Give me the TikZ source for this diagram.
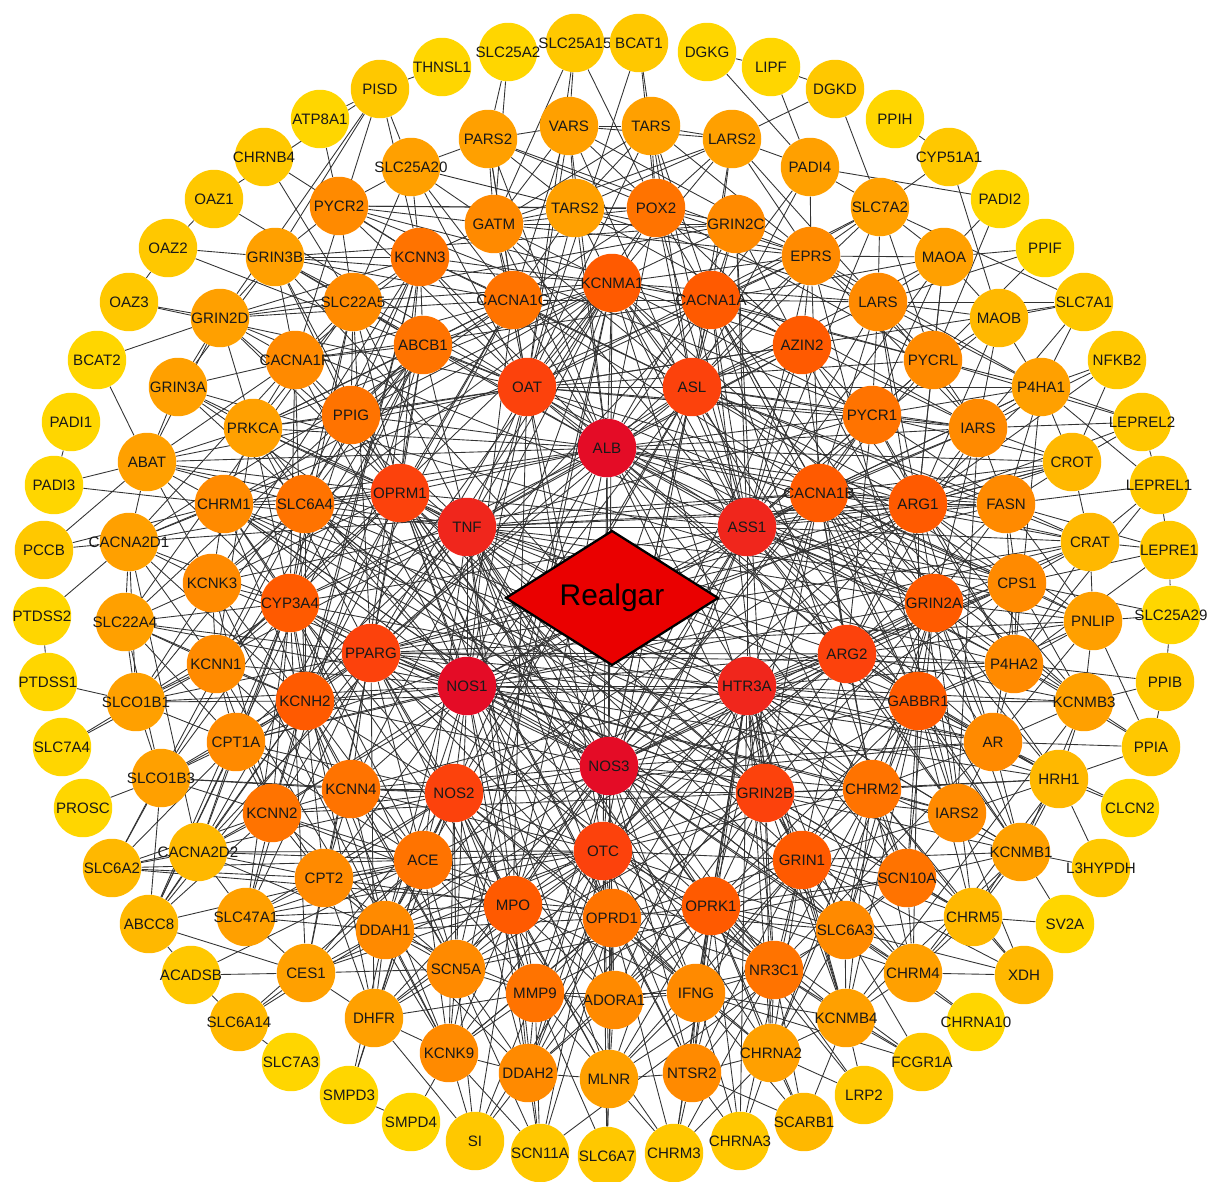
\documentclass[tikz,border=0pt]{standalone}
\usepackage{fontspec}
\newfontfamily\genefont{Liberation Sans}
\usetikzlibrary{shapes.geometric,backgrounds}

\begin{document}
\begin{tikzpicture}[x=0.02cm, y=-0.02cm,
                gene/.style={circle, minimum size=1.17cm, inner sep=0pt, text=black!90,
                  font=\genefont\fontsize{8.6}{10}\selectfont},
                link/.style={line width=0.5pt, black!80}]
                \definecolor{y0}{RGB}{255,214,0}
                \definecolor{y1}{RGB}{255,200,0}
                \definecolor{y2}{RGB}{255,184,0}
                \definecolor{o3}{RGB}{255,160,0}
                \definecolor{o4}{RGB}{255,138,0}
                \definecolor{o5}{RGB}{255,115,0}
                \definecolor{o6}{RGB}{255,90,0}
                \definecolor{r7}{RGB}{252,66,12}
                \definecolor{r8}{RGB}{240,38,28}
                \definecolor{r9}{RGB}{228,12,38}
                \definecolor{realgarRed}{RGB}{234,0,0}
                \useasboundingbox (0,0) rectangle (1211,1182);
                \foreach \g/\px/\py/\c in {
                  SLC25A2/508/52/y0, SLC25A15/575/43/y1, BCAT1/639/43/y1, DGKG/707/52/y0,
                  LIPF/771/67/y0, DGKD/835/89/y1, PPIH/895/119/y0, CYP51A1/949/157/y1,
                  PADI2/1000/199/y0, PPIF/1045/248/y0, SLC7A1/1084/302/y1, NFKB2/1117/360/y1,
                  LEPREL2/1142/422/y1, LEPREL1/1159/485/y1, LEPRE1/1169/550/y1, SLC25A29/1171/615/y0,
                  PPIB/1165/682/y1, PPIA/1151/747/y1, CLCN2/1130/808/y0, L3HYPDH/1101/868/y1,
                  SV2A/1065/924/y0, XDH/1024/975/y2, CHRNA10/976/1022/y0, FCGR1A/922/1062/y1,
                  LRP2/864/1095/y1, SCARB1/804/1122/y2, CHRNA3/740/1141/y1, CHRM3/674/1153/y1,
                  SLC6A7/607/1156/y1, SCN11A/540/1153/y1, SI/475/1141/y1, SMPD4/411/1122/y0,
                  SMPD3/349/1095/y0, SLC7A3/291/1062/y0, SLC6A14/239/1022/y2, ACADSB/191/975/y1,
                  ABCC8/149/924/y2, SLC6A2/112/868/y2, PROSC/83/808/y0, SLC7A4/62/747/y0,
                  PTDSS1/48/682/y0, PTDSS2/42/616/y0, PCCB/44/550/y1, PADI3/54/485/y0,
                  PADI1/71/422/y0, BCAT2/97/360/y0, OAZ3/129/302/y1, OAZ2/168/248/y1,
                  OAZ1/214/199/y1, CHRNB4/264/157/y1, ATP8A1/320/119/y0, PISD/380/89/y1,
                  THNSL1/442/67/y0,
                  PARS2/488/139/o3, VARS/569/126/o3, TARS/651/126/o3, LARS2/732/139/o3,
                  SLC25A20/411/167/o3, PADI4/810/167/o3, PYCR2/339/206/o4, TARS2/575/208/o3,
                  POX2/656/208/o5, SLC7A2/880/207/o3, GATM/494/224/o4, GRIN2C/736/224/o4,
                  GRIN3B/275/257/o3, KCNN3/420/257/o5, EPRS/811/256/o4, MAOA/944/257/o3,
                  KCNMA1/612/283/o6, CACNA1G/513/300/o5, CACNA1A/711/300/o6, SLC22A5/353/302/o4,
                  LARS/878/302/o4, GRIN2D/220/318/o3, MAOB/999/318/y2, ABCB1/423/345/o5,
                  AZIN2/802/345/o6, CACNA1F/295/360/o4, PYCRL/933/360/o4, GRIN3A/178/387/o3,
                  OAT/527/387/r7, ASL/692/387/r7, P4HA1/1041/387/o3, PPIG/351/415/o5,
                  PYCR1/872/415/o5, PRKCA/253/428/o3, IARS/978/428/o4, ALB/607/448/r9,
                  ABAT/147/462/o3, CROT/1072/462/y2, OPRM1/400/493/r7, CACNA1B/819/493/o6,
                  CHRM1/224/504/o4, SLC6A4/305/504/o5, ARG1/918/504/o6, FASN/1006/504/o4,
                  TNF/467/527/r8, ASS1/747/527/r8, CACNA2D1/129/542/o3, CRAT/1090/542/y2,
                  KCNK3/212/583/o4, CPS1/1017/583/o4, CYP3A4/290/603/o6, GRIN2A/934/603/o6,
                  SLC22A4/125/622/o3, PNLIP/1093/621/o3, PPARG/371/653/r7, ARG2/847/654/r7,
                  KCNN1/216/664/o4, P4HA2/1014/664/o4, NOS1/467/686/r9, HTR3A/747/686/r8,
                  KCNH2/305/701/o6, GABBR1/918/701/o6, SLCO1B1/136/702/o3, KCNMB3/1084/702/o3,
                  CPT1A/236/742/o4, AR/993/742/o4, NOS3/609/766/r9, SLCO1B3/161/778/o3,
                  HRH1/1059/779/y2, KCNN4/351/789/o5, NOS2/454/793/r7, GRIN2B/765/793/r7,
                  CHRM2/872/789/o5, KCNN2/272/813/o5, IARS2/957/813/o4, OTC/603/851/r7,
                  CACNA2D2/198/852/y2, KCNMB1/1021/852/o3, ACE/423/860/o5, GRIN1/802/860/o6,
                  CPT2/324/878/o4, SCN10A/907/878/o5, MPO/513/905/o6, OPRK1/711/906/o6,
                  SLC47A1/246/917/o3, OPRD1/612/918/o5, CHRM5/973/917/y2, DDAH1/385/930/o4,
                  SLC6A3/845/930/o4, SCN5A/456/969/o4, NR3C1/774/970/o5, CES1/306/973/o3,
                  CHRM4/913/973/o3, MMP9/535/993/o5, IFNG/696/993/o4, ADORA1/614/1000/o4,
                  DHFR/374/1018/o3, KCNMB4/846/1018/o3, KCNK9/449/1053/o4, CHRNA2/771/1053/o3,
                  DDAH2/528/1073/o4, NTSR2/692/1073/o4, MLNR/609/1079/o3} {
                  \node[gene, fill=\c] (\g) at (\px,\py) {\makebox[0pt]{\g}};
                }
                \node[diamond, draw=black, line width=1.3pt, fill=realgarRed, inner sep=0pt,
                  minimum width=4.26cm, minimum height=2.7cm,
                  font=\genefont\fontsize{17}{20}\selectfont] (Realgar) at (612,598) {Realgar};
                \begin{pgfonlayer}{background}
                  \foreach \a/\bs in {
                    ALB/{OAT,ASL,TNF,ASS1,NOS1,NOS3,HTR3A,KCNMA1,CACNA1A,CACNA1G,GATM,TARS2,POX2,GRIN2C,EPRS,AZIN2,PYCR1,IARS,CACNA1B,ARG1,FASN,CPS1,ARG2,GRIN2A,PPIG,PRKCA,OPRM1,SLC6A4,CHRM1,CYP3A4,PPARG,ABCB1,KCNN3,SLC22A5,ABAT,MPO,OTC,ACE,GRIN1,CHRM2,GABBR1,P4HA2,CROT,VARS,PARS2},
                    NOS3/{NOS1,NOS2,TNF,ASS1,HTR3A,OTC,MPO,OPRD1,OPRK1,GRIN1,GRIN2B,ACE,ADORA1,MMP9,IFNG,NR3C1,ARG1,ARG2,OAT,ASL,PPARG,CYP3A4,KCNH2,KCNMA1,CACNA1A,CACNA1B,GRIN2A,CHRM2,GABBR1,SCN5A,DDAH1,DDAH2,KCNN4,SLC6A3,AR,CPS1,CHRM1,SLC6A4,OPRM1,PYCR1,AZIN2,DHFR,MLNR,NTSR2},
                    NOS1/{NOS2,TNF,ASS1,HTR3A,OTC,MPO,OPRD1,OPRK1,GRIN1,GRIN2B,GRIN2A,ACE,ARG1,ARG2,OAT,ASL,PPARG,CYP3A4,KCNH2,KCNN1,KCNN2,KCNN4,CPT1A,KCNK3,SLC6A4,CHRM1,OPRM1,GABBR1,CACNA1B,CACNA1G,CACNA1F,KCNMA1,SLC22A4,SLCO1B1,DDAH1,DDAH2,CPT2,SCN5A,PRKCA,HRH1,CHRM2,IARS2},
                    TNF/{ASS1,HTR3A,OTC,MPO,OPRM1,OPRD1,OPRK1,PPARG,CYP3A4,ACE,MMP9,IFNG,NR3C1,ARG1,ARG2,OAT,ASL,PRKCA,PPIG,ABCB1,SLC6A4,CHRM1,AR,GRIN2B,GRIN2A,FASN,CPS1,CACNA1B,AZIN2,PYCR1,SLC22A5,KCNMA1,KCNK3,KCNH2,CPT1A,SLCO1B1,ABAT,P4HA2},
                    ASS1/{HTR3A,OTC,ARG1,ARG2,OAT,ASL,CPS1,AZIN2,PYCR1,PYCRL,P4HA1,P4HA2,GATM,POX2,EPRS,LARS,IARS,FASN,CRAT,CROT,GRIN2A,GABBR1,CACNA1B,CACNA1A,KCNMA1,MPO,OPRM1,PPARG,DDAH1,DDAH2,CYP3A4,PNLIP,AR,TARS,VARS,SLC7A2,MAOA,MAOB,GRIN2C,IARS2},
                    HTR3A/{OTC,GRIN2B,GRIN1,GRIN2A,CHRM2,GABBR1,OPRK1,OPRD1,NR3C1,SLC6A3,SCN10A,CHRM4,CHRM5,KCNMB1,KCNMB3,KCNMB4,HRH1,AR,IARS2,ARG2,P4HA2,CPS1,CACNA1B,CHRNA2,CHRM1,SLC6A4,KCNH2,KCNN4,PPARG,OPRM1,ADORA1,NTSR2,MLNR,IFNG,CHRNA3,CHRM3},
                    OAT/{ASL,OTC,ARG1,ARG2,CPS1,GATM,POX2,PYCR1,PYCR2,PYCRL,AZIN2,TARS2,TARS,VARS,PARS2,SLC25A20,SLC25A15,BCAT1,ABAT,OAZ1,OAZ2,OAZ3,SLC7A2,SLC7A1,P4HA1,PPARG,DDAH1,MPO,PRKCA,PPIG,KCNN3,EPRS,LARS2,IARS,ABCB1,CACNA1G},
                    ASL/{OTC,ARG1,ARG2,CPS1,AZIN2,GATM,POX2,PYCR1,SLC7A2,EPRS,LARS,LARS2,TARS,IARS,FASN,CACNA1A,KCNMA1,GRIN2C,PADI4,MAOA,CRAT,DDAH1,NOS2,PPARG,KCNN3,CACNA1G,MPO},
                    OTC/{ARG1,ARG2,CPS1,NOS2,MPO,OPRD1,OPRK1,ACE,ADORA1,MMP9,IFNG,DDAH1,DDAH2,GRIN1,GRIN2B,NR3C1,SCN5A,KCNK9,MLNR,NTSR2,SLC6A3,CHRM2,KCNN4,CPT2,DHFR,CES1,SLC47A1,CACNA2D2,SLC6A7,SCN11A},
                    OPRM1/{OPRD1,OPRK1,PPARG,CYP3A4,SLC6A4,CHRM1,KCNK3,ABAT,PRKCA,PPIG,ABCB1,KCNN3,SLC22A5,CACNA1F,CACNA1G,GRIN3B,GRIN2D,GRIN3A,CACNA2D1,KCNN1,KCNH2,NTSR2,ADORA1,CHRM2,GRIN1,GABBR1,MLNR,SLC6A3,CHRNA2},
                    NOS2/{MPO,ACE,ARG2,ARG1,MMP9,IFNG,DDAH1,DDAH2,SCN5A,KCNK9,CPT2,CES1,KCNN2,KCNN4,CPT1A,KCNH2,PPARG,CYP3A4,SLC47A1,DHFR,ADORA1,MLNR,OPRD1,NR3C1,AR,SLCO1B3,SLC6A2},
                    PPARG/{CYP3A4,KCNH2,ACE,MMP9,MPO,IFNG,NR3C1,AR,FASN,CPT1A,CPT2,CROT,CRAT,ABCB1,SLCO1B1,SLCO1B3,SLC22A4,SLC22A5,SLC47A1,CES1,PRKCA,DHFR,ABCC8,GRIN2B,ARG2,PNLIP,P4HA2},
                    GRIN2B/{GRIN1,GRIN2A,GRIN2C,GRIN2D,GRIN3A,GRIN3B,CHRM2,GABBR1,OPRK1,OPRD1,SLC6A3,SLC6A4,CHRM4,CHRM5,KCNMB4,CHRNA2,NTSR2,ADORA1,SCN10A,SCN5A,KCNK9,KCNN2,KCNN4,CACNA1B,CACNA1A,HRH1,KCNMB1,IARS2,NR3C1},
                    ARG2/{ARG1,CPS1,GRIN2A,GABBR1,P4HA2,PNLIP,AR,CACNA1B,KCNMB3,CRAT,FASN,IARS,PYCR1,AZIN2,DDAH1,DDAH2,MPO,CHRM2,GRIN1,IARS2,HRH1},
                    CYP3A4/{KCNH2,KCNK3,SLC6A4,CHRM1,ABCB1,SLCO1B1,SLCO1B3,SLC22A4,SLC22A5,SLC47A1,CES1,CACNA1F,CACNA2D1,ABAT,PRKCA,PPIG,KCNN1,CPT1A,KCNN2,ACE,SCN5A,ABCC8,DHFR,AR,NR3C1,CACNA2D2},
                    KCNH2/{KCNK3,KCNN1,KCNN2,KCNN3,KCNN4,KCNMA1,CPT1A,SLC6A4,SCN5A,KCNK9,CHRM1,CACNA1F,CACNA1G,CACNA2D1,CACNA2D2,SLCO1B1,SLCO1B3,CPT2,ACE,DDAH1,SLC22A4,ABCC8},
                    KCNMA1/{CACNA1A,CACNA1G,CACNA1B,KCNN3,KCNMB1,KCNMB3,KCNMB4,GRIN2C,POX2,TARS2,GATM,EPRS,AZIN2,PYCR1,ABCB1,SLC22A5,KCNK3,KCNN1,KCNN2,KCNN4,KCNK9,SCN5A,SCN10A,CHRM1,PRKCA,GRIN3B,PPIG,LARS},
                    CACNA1A/{CACNA1B,CACNA1G,CACNA1F,GRIN2C,EPRS,POX2,TARS,LARS2,PADI4,SLC7A2,LARS,AZIN2,PYCRL,MAOA,IARS,CACNA2D1,CACNA2D2,GABBR1,GRIN2A,KCNMB1,SCN10A},
                    CACNA1B/{ARG1,FASN,GRIN2A,PYCR1,IARS,CRAT,CROT,CPS1,P4HA1,PYCRL,LARS,EPRS,GABBR1,CACNA1G,CACNA2D1,CACNA2D2,KCNMB3,PNLIP,AR,HRH1,CHRM2,OPRK1},
                    ARG1/{FASN,CPS1,PYCR1,IARS,CROT,CRAT,P4HA1,PYCRL,AZIN2,GRIN2A,LARS,MAOB,MAOA,LEPREL2,NFKB2,PNLIP,P4HA2,KCNMB3,GABBR1,AR},
                    GRIN2A/{GRIN1,GABBR1,CPS1,PNLIP,P4HA2,CRAT,FASN,IARS,CHRM2,KCNMB3,AR,HRH1,GRIN2C,GRIN2D,GRIN3A,GRIN3B,SCN10A,CHRM5,KCNMB1,SLC6A3},
                    GABBR1/{GRIN1,CHRM2,AR,HRH1,KCNMB3,KCNMB1,P4HA2,CPS1,PNLIP,IARS2,SCN10A,CHRM4,CHRM5,SLC6A3,KCNMB4,OPRK1,CHRNA2},
                    GRIN1/{CHRM2,OPRK1,OPRD1,SLC6A3,SCN10A,NR3C1,IFNG,KCNMB4,CHRNA2,CHRM4,CHRM5,IARS2,KCNMB1,ADORA1,NTSR2,MLNR,CHRNA3,XDH},
                    OPRK1/{OPRD1,NR3C1,IFNG,SLC6A3,ADORA1,MLNR,NTSR2,CHRNA2,KCNMB4,CHRM4,CHRM2,SCN10A,MMP9,DDAH2,CHRM3,CHRNA3,SCARB1,LRP2,FCGR1A},
                    OPRD1/{ADORA1,MMP9,MPO,IFNG,NR3C1,MLNR,NTSR2,DDAH2,SCN5A,KCNK9,ACE,CHRNA2,SLC6A7,CHRM3,SCN11A,SI,DDAH1},
                    MPO/{ACE,MMP9,DDAH1,DDAH2,SCN5A,KCNK9,ADORA1,MLNR,CPT2,CES1,DHFR,IFNG,SI,SCN11A,SLC47A1,KCNN2},
                    ACE/{DDAH1,CPT2,CES1,SCN5A,KCNK9,KCNN2,KCNN4,MMP9,DHFR,SLC47A1,CPT1A,CACNA2D2,SLC6A2,ABCC8,ACADSB,SLC6A14,SMPD3},
                    KCNN3/{KCNN1,KCNN2,KCNN4,KCNK3,SLC22A5,GRIN3B,PYCR2,SLC25A20,GATM,CACNA1G,CACNA1F,ABCB1,PPIG,CHRNB4,GRIN2D,PISD},
                    CACNA1G/{CACNA1F,CACNA2D1,CACNA2D2,GATM,TARS2,POX2,SLC25A20,ABCB1,PPIG,PRKCA,GRIN2D,GRIN3B,PARS2,VARS},
                    GATM/{TARS2,POX2,PARS2,VARS,TARS,SLC25A20,PYCR2,SLC25A15,SLC25A2,GRIN2C,EPRS,LARS2},
                    POX2/{TARS2,TARS,VARS,PARS2,LARS2,GRIN2C,EPRS,PYCR2,PYCRL,PYCR1,SLC25A15,BCAT1},
                    TARS2/{PARS2,VARS,TARS,LARS2,EPRS,IARS,LARS,SLC25A20,PYCR2},
                    EPRS/{LARS,IARS,LARS2,TARS,VARS,PARS2,PADI4,SLC7A2,MAOA,PYCRL,AZIN2,IARS2,P4HA1},
                    LARS/{IARS,LARS2,SLC7A2,MAOA,MAOB,PYCRL,P4HA1,PPIF,SLC7A1,IARS2},
                    PYCR1/{PYCRL,PYCR2,IARS,P4HA1,MAOA,LARS,FASN,CROT,P4HA2},
                    PYCRL/{PYCR2,MAOA,MAOB,IARS,P4HA1,SLC7A2,PADI2,PPIF,LEPREL2},
                    IARS/{IARS2,P4HA1,CROT,FASN,LEPREL2,MAOB,SLC7A1,NFKB2},
                    FASN/{CROT,CRAT,CPS1,P4HA1,PNLIP,LEPREL1,LEPRE1,P4HA2},
                    CPS1/{CRAT,PNLIP,P4HA2,KCNMB3,AR,LEPRE1,SLC25A29},
                    P4HA2/{PNLIP,KCNMB3,CRAT,LEPRE1,LEPREL1,P4HA1,PPIB,PPIA,AR},
                    AR/{HRH1,KCNMB3,KCNMB1,IARS2,CHRM2,PPIA,CLCN2,PNLIP},
                    HRH1/{KCNMB1,KCNMB3,IARS2,CHRM5,CHRM4,CHRM2,L3HYPDH,CLCN2,PPIA},
                    CHRM2/{CHRM4,CHRM5,IARS2,KCNMB1,SCN10A,SLC6A3,CHRNA2,KCNMB4,CHRM1,CHRM3,XDH},
                    SLC6A3/{SCN10A,CHRM4,CHRM5,KCNMB4,NR3C1,CHRNA2,SLC6A4,SLC6A2,XDH,CHRNA10,FCGR1A},
                    NR3C1/{IFNG,KCNMB4,CHRNA2,NTSR2,MLNR,ADORA1,SCARB1,LRP2,FCGR1A,AR},
                    IFNG/{NTSR2,MLNR,ADORA1,CHRNA2,KCNMB4,FCGR1A,SCARB1,MMP9,CHRNA3},
                    MMP9/{ADORA1,DDAH2,KCNK9,SCN5A,MLNR,SI,SCN11A,SLC6A7,DHFR,DDAH1},
                    DDAH1/{DDAH2,CPT2,CES1,SCN5A,KCNK9,DHFR,SLC47A1,SMPD3,CACNA2D2,SLC6A14},
                    SCN5A/{KCNK9,SCN10A,SCN11A,DDAH2,DHFR,SI,KCNN2,CES1,CPT2},
                    KCNN2/{KCNN4,KCNN1,KCNK3,CPT1A,CPT2,CACNA2D2,SLC47A1,SLCO1B3,SLC6A2,ABCC8},
                    KCNN4/{KCNN1,CPT1A,CPT2,DDAH1,SCN5A,SLCO1B3},
                    CPT1A/{CPT2,CROT,CRAT,SLCO1B1,SLCO1B3,KCNN1,CACNA2D2,SLC22A4,SLC6A2,ABCC8},
                    KCNN1/{KCNK3,SLC22A4,SLCO1B1,CACNA2D1,KCNK9,SLC7A4},
                    KCNK3/{KCNK9,CHRM1,SLC6A4,CACNA2D1,SLC22A4,SLCO1B1,ABAT},
                    CHRM1/{SLC6A4,CHRM4,CHRM5,PRKCA,ABAT,CACNA2D1,PADI3,PCCB,CHRM3},
                    SLC6A4/{PRKCA,PPIG,SLC22A5,ABCB1,SLC6A2,SLC6A3,ABAT,GRIN3A},
                    PRKCA/{PPIG,ABAT,GRIN3A,GRIN2D,CACNA1F,SLC22A5,ABCB1,KCNN1},
                    PPIG/{ABCB1,SLC22A5,CACNA1F,GRIN3B},
                    ABCB1/{SLC22A5,SLC22A4,SLCO1B1,SLCO1B3,ABCC8,SLC47A1,CACNA1F,GRIN3B},
                    SLC22A5/{SLC22A4,SLC25A20,CACNA1F,GRIN3B,GRIN2D,PYCR2,CHRNB4},
                    CACNA1F/{CACNA2D1,GRIN2D,GRIN3A,GRIN3B,ABAT,PISD},
                    GRIN3B/{GRIN2D,GRIN3A,GRIN2C,OAZ2,PYCR2,PISD},
                    GRIN2D/{GRIN3A,GRIN2C,OAZ3,BCAT2,PISD,ABAT},
                    ABAT/{GRIN3A,CACNA2D1,PADI3,PCCB,BCAT2},
                    CACNA2D1/{CACNA2D2,SLC22A4,PCCB,PTDSS2,SLCO1B1},
                    SLCO1B1/{SLCO1B3,SLC22A4,SLC7A4,PTDSS1},
                    SLCO1B3/{SLC22A4,PROSC,SLC6A2,ABCC8},
                    CACNA2D2/{SLC6A2,ABCC8,SLC47A1,CPT2},
                    CPT2/{CES1,SLC47A1,SLC6A2,DHFR},
                    CES1/{SLC47A1,ACADSB,SLC6A14,ABCC8,DHFR},
                    DHFR/{SMPD3,KCNK9,SI},
                    KCNK9/{SI,SCN11A,SMPD4,DDAH2},
                    DDAH2/{MLNR,SI,SCN11A,ADORA1},
                    MLNR/{NTSR2,SLC6A7,CHRM3,ADORA1},
                    NTSR2/{CHRNA2,CHRM3,CHRNA3,SCARB1},
                    CHRNA2/{CHRNA3,SCARB1,LRP2,KCNMB4,CHRM3},
                    KCNMB4/{KCNMB1,KCNMB3,CHRM4,LRP2,FCGR1A,SCARB1},
                    CHRM4/{CHRM5,KCNMB1,XDH,CHRNA10,SCN10A},
                    SCN10A/{KCNMB1,CHRM5,SCN11A,IARS2},
                    CHRM5/{KCNMB1,SV2A,XDH},
                    KCNMB1/{KCNMB3,IARS2,L3HYPDH,SV2A},
                    IARS2/{XDH},
                    KCNMB3/{PNLIP,PPIA,PPIB},
                    PNLIP/{SLC25A29,CRAT,PPIA},
                    CRAT/{CROT,LEPRE1,LEPREL1},
                    CROT/{LEPREL2,NFKB2,P4HA1},
                    P4HA1/{LEPREL2,NFKB2,MAOB,SLC7A1,LEPREL1},
                    MAOB/{MAOA,SLC7A1,CYP51A1},
                    MAOA/{SLC7A2,PADI2,PPIF},
                    SLC7A2/{PADI4,CYP51A1,DGKD,SLC7A1},
                    PADI4/{LARS2,DGKG,LIPF,PADI2},
                    LARS2/{TARS,VARS,DGKD},
                    TARS/{VARS,BCAT1},
                    VARS/{PARS2,SLC25A15},
                    PARS2/{SLC25A20,SLC25A2},
                    SLC25A20/{PYCR2,PISD},
                    PYCR2/{ATP8A1},
                    DGKG/{LIPF},
                    LIPF/{DGKD},
                    PPIH/{CYP51A1},
                    SMPD3/{SMPD4},
                    SLC7A3/{SLC6A14},
                    ACADSB/{SLC6A14,ABCC8},
                    PADI1/{PADI3},
                    OAZ1/{OAZ2,PISD},
                    OAZ2/{OAZ3},
                    PTDSS1/{PTDSS2},
                    LEPREL2/{LEPREL1},
                    LEPREL1/{LEPRE1},
                    LEPRE1/{SLC25A29},
                    SLC25A29/{PPIB},
                    PPIB/{PPIA},
                    ATP8A1/{PISD},
                    PISD/{THNSL1}} {
                    \foreach \b in \bs {
                      \draw[link] (\a) -- (\b);
                    }
                  }
                \end{pgfonlayer}
              \end{tikzpicture}
\end{document}
